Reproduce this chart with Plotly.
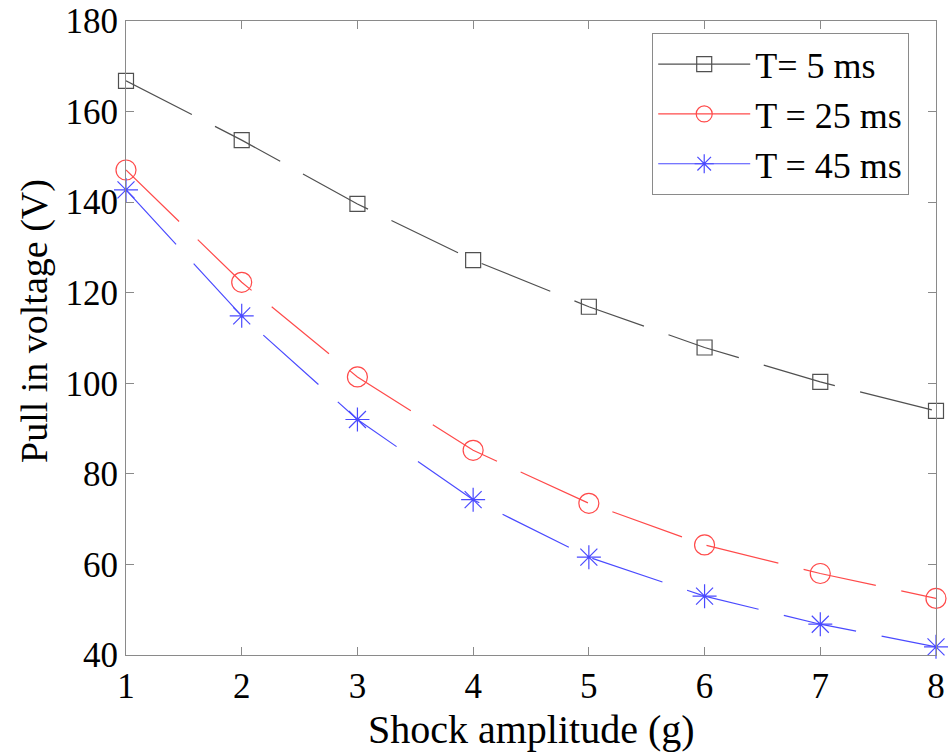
import plotly.graph_objects as go

shock_g = [1, 2, 3, 4, 5, 6, 7, 8]
v_5ms = [166.8, 153.7, 139.6, 127.2, 116.9, 107.9, 100.3, 93.9]
v_25ms = [147.1, 122.3, 101.4, 85.2, 73.5, 64.3, 58.0, 52.5]
v_45ms = [142.7, 114.9, 92.0, 74.3, 61.6, 53.0, 46.8, 41.8]
names = ["T= 5 ms", "T = 25 ms", "T = 45 ms"]
x_ticks = [1, 2, 3, 4, 5, 6, 7, 8]
y_ticks = [40, 60, 80, 100, 120, 140, 160, 180]
x_title = "Shock amplitude (g)"
y_title = "Pull in voltage (V)"

series = [
    (v_5ms, names[0], "#505050", "square-open", 15),
    (v_25ms, names[1], "#ff4a4a", "circle-open", 20),
    (v_45ms, names[2], "#4a4aff", "asterisk-open", 20),
]

fig = go.Figure()
for vals, name, color, sym, size in series:
    fig.add_trace(go.Scatter(
        x=shock_g, y=vals, mode="lines+markers", name=name, showlegend=False,
        line=dict(color=color, width=1.2, dash="74px,26px"),
        marker=dict(symbol=sym, size=size, color=color, line=dict(color=color, width=1.2)),
        cliponaxis=False,
    ))
for vals, name, color, sym, size in series:
    fig.add_trace(go.Scatter(
        x=[None], y=[None], mode="lines+markers", name=name,
        line=dict(color=color, width=1.2),
        marker=dict(symbol=sym, size=size, color=color, line=dict(color=color, width=1.2)),
    ))

font = "Liberation Serif, Times New Roman, serif"
axis_common = dict(
    showline=True, mirror="ticks", linecolor="#8a8a8a", linewidth=1.2,
    ticks="inside", ticklen=8, tickcolor="#8a8a8a", tickwidth=1.2,
    showgrid=False, zeroline=False, ticklabeloverflow="allow",
    tickfont=dict(family=font, size=35, color="black"),
)
fig.update_layout(
    width=952, height=755,
    margin=dict(l=126, r=16, t=21, b=100),
    paper_bgcolor="white", plot_bgcolor="white",
    font=dict(family=font, color="black"),
    xaxis=dict(range=[1, 8], tickvals=x_ticks, **axis_common),
    yaxis=dict(range=[40, 180], tickvals=y_ticks, **axis_common),
    legend=dict(
        x=0.6494, y=0.981, xanchor="left", yanchor="top",
        bgcolor="white", bordercolor="#8a8a8a", borderwidth=1.2,
        font=dict(family=font, size=36, color="black"),
        itemwidth=92, tracegroupgap=0,
    ),
    annotations=[
        dict(text=y_title, textangle=-90, xref="paper", yref="paper",
             x=-0.1136, y=0.5268, xanchor="center", yanchor="middle", showarrow=False,
             font=dict(family=font, size=38, color="black")),
        dict(text=x_title, xref="paper", yref="paper",
             x=0.5, y=-0.118, xanchor="center", yanchor="middle", showarrow=False,
             font=dict(family=font, size=40, color="black")),
    ],
)
fig.update_xaxes(automargin=False)
fig.update_yaxes(automargin=False)
fig.write_html("out.html", config={"displayModeBar": False},
               post_script="document.body.style.margin='0px';document.body.style.overflow='hidden';")
